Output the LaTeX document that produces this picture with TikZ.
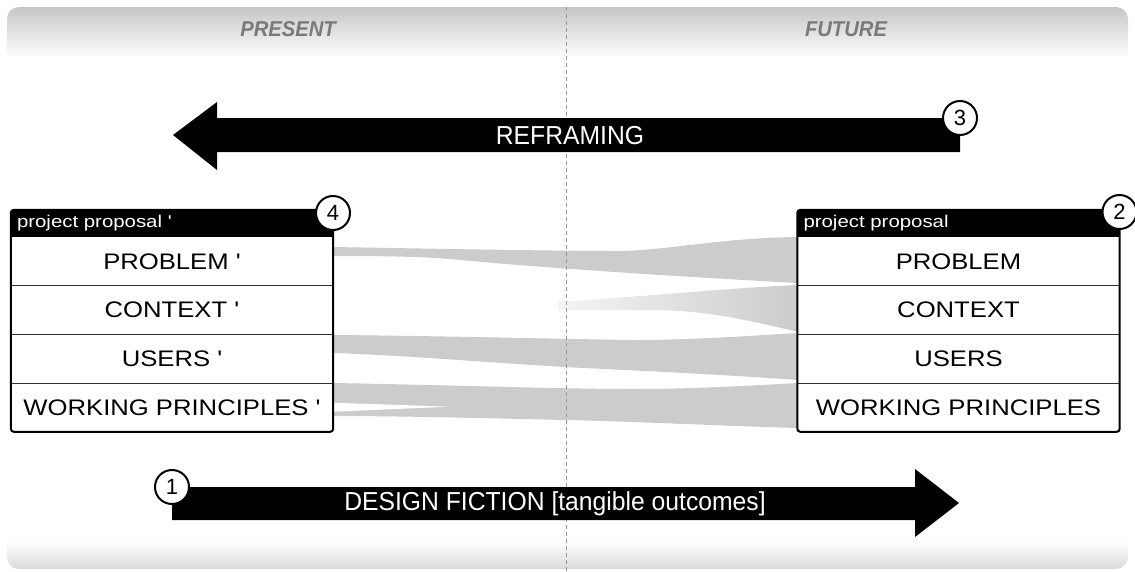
\documentclass[tikz,border=0pt]{standalone}
\usepackage{fontspec}
\setmainfont{Liberation Sans}
\newfontfamily\wf[FakeStretch=1.14]{Liberation Sans}
\newfontfamily\hf[FakeStretch=1.2]{Liberation Sans}
\newfontfamily\af[FakeStretch=0.95]{Liberation Sans}
\newfontfamily\pf[FakeStretch=0.94]{Liberation Sans}
\definecolor{flow}{HTML}{CCCCCC}
\definecolor{bgt}{HTML}{C6C6C6}
\definecolor{bgb}{HTML}{DADADA}
\definecolor{ctxl}{HTML}{F4F4F4}
\definecolor{lbl}{HTML}{7A7A7A}
\definecolor{midc}{HTML}{999999}
\pgfdeclareverticalshading{bgsh}{100bp}{color(0bp)=(bgb); color(25bp)=(bgb); color(27.5bp)=(white); color(70.5bp)=(white); color(75bp)=(bgt); color(100bp)=(bgt)}
\begin{document}
\begin{tikzpicture}[x=1pt,y=-1pt,
  rowc/.style={minimum width=322pt, minimum height=48.25pt, inner sep=0pt, font=\wf\fontsize{22.5}{26}\selectfont},
  hdr/.style={fill=black, text=white, minimum height=27pt, text width=310pt, inner xsep=6pt, inner ysep=0pt, align=left, font=\hf\fontsize{17}{20}\selectfont},
  num/.style={circle, draw=black, line width=2pt, fill=white, minimum size=34pt, inner sep=0pt, font=\fontsize{22}{24}\selectfont},
  frame/.style={draw=black, line width=2pt, rounded corners=3pt},
  sep/.style={draw=black!80, line width=1pt},
  bigarrow/.style={fill=black},
  arrowtxt/.style={text=white, font=\af\fontsize{26}{28}\selectfont, inner sep=0pt},
  phase/.style={text=lbl, font=\pf\bfseries\itshape\fontsize{21.5}{24}\selectfont},
  midline/.style={draw=midc, line width=1pt, dash pattern=on 4pt off 3pt}
]
\useasboundingbox (0,0) rectangle (1135,571);
% background
\path[shading=bgsh, rounded corners=12pt] (7,7) rectangle (1128,569);
\node[phase] (present) at (288,29) {PRESENT};
\node[phase] (future) at (846,29) {FUTURE};

% flows
\fill[flow] (333,247) .. controls (450,249) and (560,251) .. (620,251)
  .. controls (670,250) and (720,238) .. (798,237) -- (798,283)
  .. controls (650,275) and (520,266) .. (450,259)
  .. controls (410,256) and (370,256) .. (333,256) -- cycle;
\shade[left color=ctxl, right color=flow] (558,302) .. controls (650,296) and (730,288) .. (798,285)
  -- (798,332) .. controls (740,318) and (700,310) .. (650,310) -- (558,310) -- cycle;
\fill[flow] (333,335) .. controls (450,336) and (560,339) .. (632,340)
  .. controls (700,340) and (760,335) .. (798,333) -- (798,380)
  .. controls (700,373) and (600,369) .. (565,367)
  .. controls (480,362) and (400,355) .. (333,353) -- cycle;
\fill[flow] (333,383) .. controls (450,385) and (560,389) .. (632,389)
  .. controls (700,389) and (760,385) .. (798,383) -- (798,428)
  .. controls (700,425) and (620,421) .. (565,420)
  .. controls (480,418) and (400,416) .. (333,416) -- cycle;
\fill[white] (333,402.7) -- (450,406.7) -- (333,411.7) -- cycle;

% dashed middle line
\coordinate (mt) at (566,7);
\coordinate (mb) at (566,571);
\draw[midline] (mt) -- (mb);

% reframing arrow
\fill[bigarrow] (173,135) -- (217,102) -- (217,118) -- (960,118) -- (960,152) -- (217,152) -- (217,170) -- cycle;
\node[arrowtxt] (refr) at (570,136) {REFRAMING};
\node[num] (n3) at (960,118) {3};

% design fiction arrow
\fill[bigarrow] (172,487) -- (915,487) -- (915,469) -- (959,503) -- (915,537) -- (915,520) -- (172,520) -- cycle;
\node[arrowtxt] (df) at (555,504) {DESIGN FICTION [tangible outcomes]};
\node[num] (n1) at (172,487) {1};

% left box
\node[hdr] (lh) at (172,223.5) {project proposal '};
\node[rowc, anchor=north] (lp) at (lh.south) {PROBLEM '};
\node[rowc, anchor=north] (lc) at (lp.south) {CONTEXT '};
\node[rowc, anchor=north] (lu) at (lc.south) {USERS '};
\node[rowc, anchor=north] (lw) at (lu.south) {WORKING PRINCIPLES '};
\draw[sep] (lp.south west) -- (lp.south east);
\draw[sep] (lc.south west) -- (lc.south east);
\draw[sep] (lu.south west) -- (lu.south east);
\draw[frame] (lh.north west) rectangle (lw.south east);
\node[num] (n4) at (333,213) {4};

% right box
\node[hdr] (rh) at (958.5,223.5) {project proposal};
\node[rowc, anchor=north] (rp) at (rh.south) {PROBLEM};
\node[rowc, anchor=north] (rc) at (rp.south) {CONTEXT};
\node[rowc, anchor=north] (ru) at (rc.south) {USERS};
\node[rowc, anchor=north] (rw) at (ru.south) {WORKING PRINCIPLES};
\draw[sep] (rp.south west) -- (rp.south east);
\draw[sep] (rc.south west) -- (rc.south east);
\draw[sep] (ru.south west) -- (ru.south east);
\draw[frame] (rh.north west) rectangle (rw.south east);
\node[num] (n2) at (1119.5,212) {2};
\end{tikzpicture}
\end{document}
